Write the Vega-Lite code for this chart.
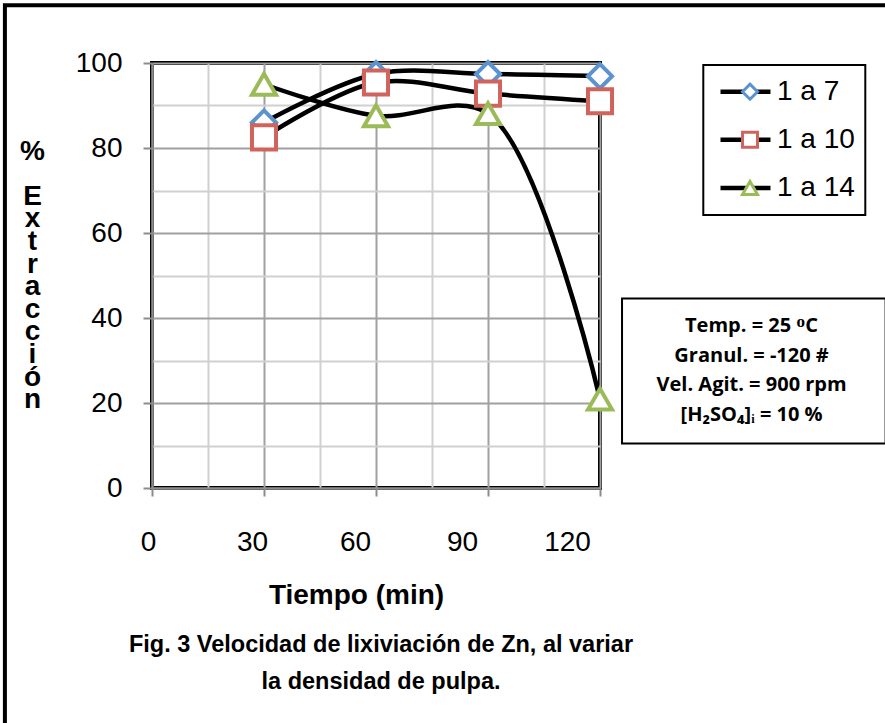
{
  "$schema": "https://vega.github.io/schema/vega-lite/v6.json",
  "width": 448,
  "height": 425,
  "autosize": {"type": "none"},
  "padding": {"left": 152, "top": 63, "right": 285, "bottom": 235},
  "background": "white",
  "config": {
    "view": {"stroke": "black", "strokeWidth": 4},
    "font": "Liberation Sans"
  },
  "title": {
    "text": ["Fig. 3 Velocidad de lixiviación de Zn, al variar", "la densidad de pulpa."],
    "orient": "bottom",
    "anchor": "middle",
    "font": "Liberation Sans",
    "fontSize": 23.5,
    "fontWeight": "bold",
    "lineHeight": 37,
    "offset": -95,
    "dx": 5,
    "color": "black"
  },
  "datasets": {
    "extraccion": [
      {"Serie": "1 a 7", "Tiempo": 30, "Extraccion": 86.0},
      {"Serie": "1 a 7", "Tiempo": 60, "Extraccion": 97.4},
      {"Serie": "1 a 7", "Tiempo": 90, "Extraccion": 97.4},
      {"Serie": "1 a 7", "Tiempo": 120, "Extraccion": 96.9},
      {"Serie": "1 a 10", "Tiempo": 30, "Extraccion": 82.5},
      {"Serie": "1 a 10", "Tiempo": 60, "Extraccion": 95.4},
      {"Serie": "1 a 10", "Tiempo": 90, "Extraccion": 92.8},
      {"Serie": "1 a 10", "Tiempo": 120, "Extraccion": 91.0},
      {"Serie": "1 a 14", "Tiempo": 30, "Extraccion": 95.0},
      {"Serie": "1 a 14", "Tiempo": 60, "Extraccion": 87.6},
      {"Serie": "1 a 14", "Tiempo": 90, "Extraccion": 88.1},
      {"Serie": "1 a 14", "Tiempo": 120, "Extraccion": 20.9}
    ]
  },
  "layer": [
    {
      "data": {"values": [{}]},
      "mark": {"type": "rect", "fill": "transparent", "stroke": "black", "strokeWidth": 4, "clip": false},
      "encoding": {
        "x": {"datum": -39.4, "type": "quantitative", "scale": {"domain": [0, 120]}},
        "x2": {"datum": 198},
        "y": {"datum": 113.6, "type": "quantitative", "scale": {"domain": [0, 100]}},
        "y2": {"datum": -56}
      }
    },
    {
      "data": {"name": "extraccion"},
      "mark": {"type": "line", "interpolate": "catmull-rom", "strokeWidth": 4.5, "strokeCap": "round"},
      "encoding": {
        "x": {
          "field": "Tiempo",
          "type": "quantitative",
          "scale": {"domain": [0, 120]},
          "axis": {
            "grid": true,
            "zindex": 0,
            "values": [0, 15, 30, 45, 60, 75, 90, 105, 120],
            "labelExpr": "datum.value % 30 === 0 ? datum.label : ''",
            "labelFontSize": 28,
            "labelColor": "black",
            "labelPadding": 32,
            "labelFlush": false,
            "labelOffset": {
              "condition": [
                {"test": "datum.value === 30", "value": -12},
                {"test": "datum.value === 60", "value": -21},
                {"test": "datum.value === 90", "value": -26},
                {"test": "datum.value === 120", "value": -33}
              ],
              "value": -4
            },
            "tickSize": 8,
            "tickWidth": 2,
            "tickColor": "#8C8C8C",
            "tickOpacity": {"condition": {"test": "datum.value % 30 === 0", "value": 1}, "value": 0},
            "gridColor": {"condition": {"test": "datum.value % 30 === 0", "value": "#A0A0A0"}, "value": "#D0D0D0"},
            "gridWidth": 2,
            "gridOpacity": 1,
            "domainColor": "#8C8C8C",
            "domainWidth": 2,
            "title": "Tiempo (min)",
            "titleFontSize": 28,
            "titleFontWeight": "bold",
            "titleColor": "black",
            "titleX": 204,
            "titleY": 115,
            "titleAlign": "center",
            "titleBaseline": "alphabetic"
          }
        },
        "y": {
          "field": "Extraccion",
          "type": "quantitative",
          "scale": {"domain": [0, 100]},
          "axis": {
            "grid": true,
            "zindex": 0,
            "values": [0, 10, 20, 30, 40, 50, 60, 70, 80, 90, 100],
            "labelExpr": "datum.value % 20 === 0 ? datum.label : ''",
            "labelFontSize": 28,
            "labelColor": "black",
            "labelPadding": 21,
            "tickSize": 9,
            "tickWidth": 2,
            "tickColor": "#8C8C8C",
            "tickOpacity": {"condition": {"test": "datum.value % 20 === 0", "value": 1}, "value": 0},
            "gridColor": {"condition": {"test": "datum.value % 20 === 0", "value": "#A0A0A0"}, "value": "#D0D0D0"},
            "gridWidth": 2,
            "gridOpacity": 1,
            "domainColor": "#8C8C8C",
            "domainWidth": 2,
            "title": ["%", "\u200b", "E", "x", "t", "r", "a", "c", "c", "i", "ó", "n"],
            "titleAngle": 0,
            "titleAlign": "center",
            "titleBaseline": "middle",
            "titleX": -120,
            "titleY": 88,
            "titleLineHeight": 22.6,
            "titleFontSize": 28,
            "titleFontWeight": "bold",
            "titleColor": "black"
          }
        },
        "color": {
          "field": "Serie",
          "type": "nominal",
          "scale": {"domain": ["1 a 7", "1 a 10", "1 a 14"], "range": ["black", "black", "black"]},
          "legend": {
            "title": null,
            "orient": "none",
            "legendX": 551.3,
            "legendY": 2,
            "padding": 10,
            "strokeColor": "black",
            "fillColor": "white",
            "symbolType": "stroke",
            "symbolSize": 2500,
            "symbolStrokeWidth": 4.5,
            "symbolStrokeColor": "black",
            "symbolOffset": 4.7,
            "clipHeight": 33.4,
            "rowPadding": 14.1,
            "labelOffset": 4,
            "labelFontSize": 28,
            "labelColor": "black",
            "encode": {"legend": {"update": {"strokeWidth": {"value": 2}}}}
          }
        }
      }
    },
    {
      "data": {"name": "extraccion"},
      "mark": {"type": "point", "filled": true, "fill": "white", "strokeWidth": 4, "size": 580, "opacity": 1},
      "encoding": {
        "x": {"field": "Tiempo", "type": "quantitative", "scale": {"domain": [0, 120]}},
        "y": {"field": "Extraccion", "type": "quantitative", "scale": {"domain": [0, 100]}},
        "shape": {
          "field": "Serie",
          "type": "nominal",
          "sort": null,
          "scale": {"range": ["diamond", "square", "triangle-up"]},
          "legend": {
            "title": null,
            "orient": "none",
            "legendX": 551.3,
            "legendY": 2,
            "padding": 10,
            "symbolSize": 225,
            "symbolStrokeWidth": 3,
            "symbolFillColor": "white",
            "symbolOffset": 22.7,
            "clipHeight": 33.4,
            "rowPadding": 14.1,
            "labelOffset": 4,
            "labelFontSize": 28,
            "labelOpacity": 0
          }
        },
        "stroke": {
          "field": "Serie",
          "type": "nominal",
          "sort": null,
          "scale": {"range": ["#5B93CF", "#D0635B", "#9BBB59"]},
          "legend": {
            "title": null,
            "orient": "none",
            "legendX": 551.3,
            "legendY": 2,
            "padding": 10,
            "symbolSize": 225,
            "symbolStrokeWidth": 3,
            "symbolFillColor": "white",
            "symbolOffset": 22.7,
            "clipHeight": 33.4,
            "rowPadding": 14.1,
            "labelOffset": 4,
            "labelFontSize": 28,
            "labelOpacity": 0
          }
        }
      }
    },
    {
      "data": {"values": [{}]},
      "mark": {"type": "rect", "fill": "white", "stroke": "black", "strokeWidth": 2, "clip": false},
      "encoding": {
        "x": {"datum": 125.9, "type": "quantitative", "scale": {"domain": [0, 120]}},
        "x2": {"datum": 196.5},
        "y": {"datum": 44.6, "type": "quantitative", "scale": {"domain": [0, 100]}},
        "y2": {"datum": 10.5}
      }
    },
    {
      "data": {"values": [{}]},
      "mark": {
        "type": "text",
        "text": ["Temp. = 25 ᴼC", "Granul. = -120 #", "Vel. Agit. = 900 rpm", "[H₂SO₄]ᵢ = 10 %"],
        "font": "Open Sans",
        "fontWeight": "bold",
        "fontSize": 20,
        "lineHeight": 29.5,
        "align": "center",
        "baseline": "alphabetic",
        "color": "black",
        "clip": false
      },
      "encoding": {
        "x": {"datum": 160.6, "type": "quantitative", "scale": {"domain": [0, 120]}},
        "y": {"datum": 36.7, "type": "quantitative", "scale": {"domain": [0, 100]}}
      }
    }
  ]
}
